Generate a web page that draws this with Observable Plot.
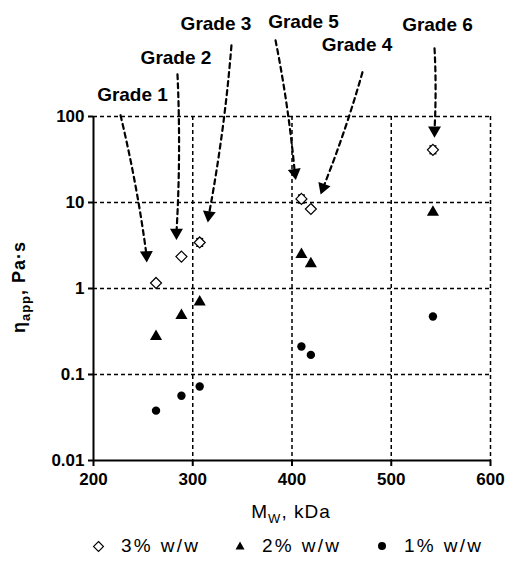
<!DOCTYPE html>
<html><head><meta charset="utf-8">
<script src="https://cdn.jsdelivr.net/npm/d3@7"></script>
<script src="https://cdn.jsdelivr.net/npm/@observablehq/plot@0.6"></script>
<style>
body{margin:0;background:#fff;font-family:"Liberation Sans",Arial,sans-serif;}
#legend{position:relative;width:506px;height:32px;font-size:19px;letter-spacing:2.3px;color:#000;}
#legend .item{position:absolute;top:0;display:flex;align-items:center;height:32px;}
#legend svg{margin-right:16px;}
</style></head><body>
<div id="chart"></div>
<div id="legend"></div>
<script>
// ---- data ----
const grades = ["Grade 1", "Grade 2", "Grade 3", "Grade 4", "Grade 5", "Grade 6"];
const mw = [263, 288.6, 307, 419, 409.5, 542];           // kDa
const visc3 = [1.16, 2.35, 3.43, 8.4, 11.0, 41];        // 3% w/w, Pa·s
const visc3Lo = [null, null, 3.1, null, 9.9, 37];
const visc3Hi = [null, null, 3.8, null, 12.2, 45.5];
const visc2 = [0.277, 0.485, 0.695, 1.94, 2.48, 7.7];   // 2% w/w
const visc1 = [0.038, 0.0565, 0.0725, 0.169, 0.212, 0.472]; // 1% w/w
const xTicks = [200, 300, 400, 500, 600];
const yTicks = [0.01, 0.1, 1, 10, 100];
const seriesNames = ["3% w/w", "2% w/w", "1% w/w"];
// annotation arrows (data coordinates): label position, arrow start, arrow end
const labelX = [239.3, 283.1, 323.4, 465.5, 411.6, 546.6];
const labelY = [176.7, 475, 1180, 673, 1245, 1148];
const arrowX1 = [227.2, 284.6, 339, 471, 383.4, 543.6];
const arrowY1 = [103.5, 310, 673, 327, 769, 621];
const arrowX2 = [253.4, 283.6, 316.2, 431.4, 402.8, 543.6];
const arrowY2 = [2.45, 4.47, 7.14, 14.9, 22.2, 69.3];
const headAngle = [178, 180, 188, 200, 172, 180];

const pts = grades.map((g, i) => ({g, mw: mw[i], v3: visc3[i], lo: visc3Lo[i], hi: visc3Hi[i], v2: visc2[i], v1: visc1[i]}));
const ann = grades.map((g, i) => ({g, lx: labelX[i], ly: labelY[i], x1: arrowX1[i], y1: arrowY1[i], x2: arrowX2[i], y2: arrowY2[i], a: headAngle[i]}));
const errPts = pts.filter(d => d.lo != null);

const capSymbol = {draw(ctx, size) { const r = Math.sqrt(size / Math.PI); ctx.moveTo(-r, 0); ctx.lineTo(r, 0); }};
const rhombus = {draw(ctx, size) { const r = Math.sqrt(size / Math.PI) * 1.25; ctx.moveTo(0, -r); ctx.lineTo(r, 0); ctx.lineTo(0, r); ctx.lineTo(-r, 0); ctx.closePath(); }};

const FONT = "Liberation Sans, Arial, sans-serif";
const chart = Plot.plot({
  width: 506,
  height: 530,
  marginLeft: 93,
  marginRight: 16,
  marginTop: 116,
  marginBottom: 70,
  style: {fontFamily: FONT, color: "#000", background: "#fff", overflow: "visible"},
  x: {domain: [200, 600], ticks: xTicks},
  y: {type: "log", domain: [0.01, 100]},
  marks: [
    Plot.gridX(xTicks.slice(1), {stroke: "#000", strokeOpacity: 1, strokeWidth: 1.5, strokeDasharray: "4,3"}),
    Plot.gridY(yTicks.slice(1), {stroke: "#000", strokeOpacity: 1, strokeWidth: 1.5, strokeDasharray: "4,3"}),
    Plot.ruleX([200], {stroke: "#000", strokeWidth: 2}),
    Plot.ruleY([0.01], {stroke: "#000", strokeWidth: 2}),
    Plot.axisX({ticks: xTicks, tickSize: 6, tickPadding: 6, fontSize: 17, fontWeight: "bold", label: null, tickFormat: d => String(d), stroke: "#000", strokeWidth: 2}),
    Plot.axisY({ticks: yTicks, tickSize: 5, tickPadding: 4, fontSize: 17, fontWeight: "bold", label: null, tickFormat: d => String(d), stroke: "#000", strokeWidth: 2}),
    // annotation arrows
    Plot.arrow(ann, {x1: "x1", y1: "y1", x2: "x2", y2: "y2", bend: 3, headLength: 0, stroke: "#000", strokeWidth: 2.2, strokeDasharray: "5,4", clip: false}),
    Plot.dot(ann, {x: "x2", y: "y2", symbol: "triangle", r: 4.8, fill: "#000", stroke: "none", rotate: "a"}),
    Plot.text(ann, {x: "lx", y: "ly", text: "g", fontSize: 19, fontWeight: "bold", fill: "#000", textAnchor: "middle", lineAnchor: "middle", style: "letter-spacing:2px"}),
    // error bars for 3%
    Plot.ruleX(errPts, {x: "mw", y1: "lo", y2: "hi", stroke: "#000", strokeWidth: 1.2}),
    Plot.dot(errPts, {x: "mw", y: "lo", symbol: capSymbol, r: 3.5, stroke: "#000", strokeWidth: 1.5, fill: "none"}),
    Plot.dot(errPts, {x: "mw", y: "hi", symbol: capSymbol, r: 3.5, stroke: "#000", strokeWidth: 1.5, fill: "none"}),
    // data
    Plot.dot(pts, {x: "mw", y: "v3", symbol: rhombus, r: 4.4, fill: "#fff", stroke: "#000", strokeWidth: 1.2}),
    Plot.dot(pts, {x: "mw", y: "v2", symbol: "triangle", r: 4.5, fill: "#000", stroke: "none"}),
    Plot.dot(pts, {x: "mw", y: "v1", r: 4.2, fill: "#000", stroke: "none"})
  ]
});
document.getElementById("chart").appendChild(chart);

// axis titles with subscripts
const svg = d3.select(chart);
const xt = svg.append("text").attr("x", 291).attr("y", 518).attr("text-anchor", "middle")
  .attr("font-size", 19).attr("font-family", FONT).attr("fill", "#000").style("letter-spacing", "1px");
xt.append("tspan").text("M");
xt.append("tspan").attr("font-size", 13).attr("dy", 5).text("W");
xt.append("tspan").attr("dy", -5).text(", kDa");

const yt = svg.append("text").attr("transform", "translate(25,287) rotate(-90)").attr("text-anchor", "middle")
  .attr("font-size", 18).attr("font-weight", "bold").attr("font-family", FONT).attr("fill", "#000").style("letter-spacing", "1px");
yt.append("tspan").text("η");
yt.append("tspan").attr("font-size", 13).attr("dy", 5).text("app");
yt.append("tspan").attr("dy", -5).text(", Pa·s");

// legend
const legendItems = [
  {name: seriesNames[0], left: 92, sym: '<svg width="13" height="13" viewBox="-6.5 -6.5 13 13"><path d="M0,-5L5,0L0,5L-5,0Z" fill="#fff" stroke="#000" stroke-width="1.1"/></svg>'},
  {name: seriesNames[1], left: 234, sym: '<svg width="12" height="12" viewBox="-6 -6 12 12"><path d="M0,-4.5L4.5,3.5L-4.5,3.5Z" fill="#000"/></svg>'},
  {name: seriesNames[2], left: 376, sym: '<svg width="12" height="12" viewBox="-6 -6 12 12"><circle r="4" fill="#000"/></svg>'}
];
const leg = document.getElementById("legend");
for (const it of legendItems) {
  const d = document.createElement("div");
  d.className = "item";
  d.style.left = it.left + "px";
  d.innerHTML = it.sym + "<span>" + it.name + "</span>";
  leg.appendChild(d);
}
</script>
</body></html>
